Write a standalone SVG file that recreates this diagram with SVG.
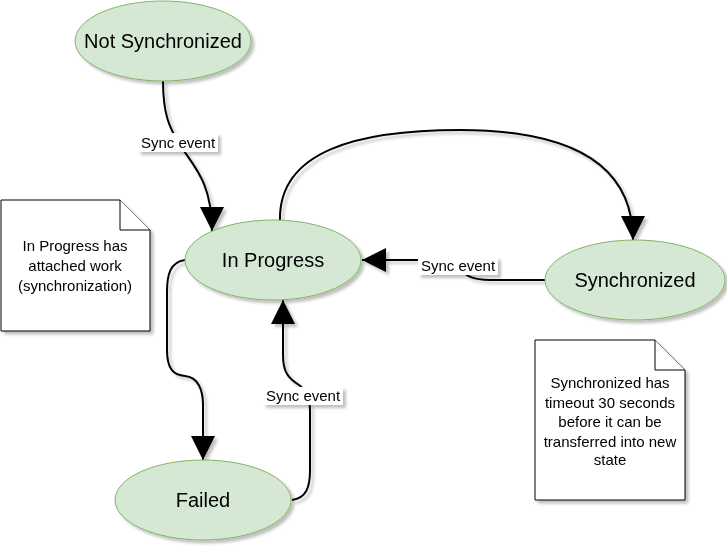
<svg xmlns="http://www.w3.org/2000/svg" width="727" height="547" viewBox="0 0 727 547">
<defs>
<style>
.state{fill:#d5e8d4;stroke:#82b366;stroke-width:1}
.st{font-family:"Liberation Sans",Arial,sans-serif;font-size:20px;fill:#000;text-anchor:middle}
.note{fill:#fff;stroke:#000;stroke-width:1}
.nt{font-family:"Liberation Sans",Arial,sans-serif;font-size:15px;fill:#000;text-anchor:middle}
.edge{fill:none;stroke:#000;stroke-width:2}
.lbg{fill:#fff}
.lt{font-family:"Liberation Sans",Arial,sans-serif;font-size:15px;fill:#000;text-anchor:middle}
</style>
<filter id="sh" x="-10%" y="-10%" width="130%" height="130%">
<feGaussianBlur in="SourceAlpha" stdDeviation="1.5"/>
<feOffset dx="3" dy="3" result="o"/>
<feComponentTransfer><feFuncA type="linear" slope="0.25"/></feComponentTransfer>
<feMerge><feMergeNode/><feMergeNode in="SourceGraphic"/></feMerge>
</filter>
<marker id="arr" markerUnits="userSpaceOnUse" markerWidth="26" markerHeight="26" refX="24" refY="12" orient="auto" viewBox="0 0 26 26">
<path d="M0,0 L24,12 L0,24 z" fill="#000"/>
</marker>
</defs>
<rect width="727" height="547" fill="#fff"/>

<g id="connectors" filter="url(#sh)">
<path class="edge" d="M163,81 C163,115 170,128 178,142 C192,165 212,180 212,231" marker-end="url(#arr)"/>
<path class="edge" d="M280,221 C278,150 360,130 460,130 C560,130 633,158 633,240" marker-end="url(#arr)"/>
<path class="edge" d="M545,280 L490,280 C472,280 465,275 458,268 C450,262 440,260 425,260 L362,260" marker-end="url(#arr)"/>
<path class="edge" d="M185,260 C170,262 167,275 167,292 L167,350 C167,370 174,375 185,376 C198,377 203,390 203,405 L203,460" marker-end="url(#arr)"/>
<path class="edge" d="M292,500 C306,498 310,488 310,470 L310,412 C310,396 306,390 299,385 C288,378 283,372 283,355 L283,300" marker-end="url(#arr)"/>
<rect class="lbg" x="138" y="133" width="80" height="19"/>
<text class="lt" x="178" y="148">Sync event</text>
<rect class="lbg" x="418" y="257" width="80" height="18"/>
<text class="lt" x="458" y="271">Sync event</text>
<rect class="lbg" x="263" y="387" width="80" height="18"/>
<text class="lt" x="303" y="401">Sync event</text>
</g>

<g id="not-synchronized" filter="url(#sh)">
<ellipse class="state" cx="163" cy="41" rx="88" ry="40"/>
<text class="st" x="163" y="48">Not Synchronized</text>
</g>
<g id="in-progress" filter="url(#sh)">
<ellipse class="state" cx="273" cy="260" rx="88" ry="40"/>
<text class="st" x="273" y="267">In Progress</text>
</g>
<g id="synchronized" filter="url(#sh)">
<ellipse class="state" cx="635" cy="280" rx="90" ry="40"/>
<text class="st" x="635" y="287">Synchronized</text>
</g>
<g id="failed" filter="url(#sh)">
<ellipse class="state" cx="203" cy="500" rx="88" ry="40"/>
<text class="st" x="203" y="507">Failed</text>
</g>

<g id="note-in-progress" filter="url(#sh)">
<path class="note" d="M1,200 L120,200 L150,230 L150,331 L1,331 Z"/>
<path class="note" d="M120,200 L120,230 L150,230" fill="none"/>
<text class="nt" x="75" y="251">In Progress has</text>
<text class="nt" x="75" y="271">attached work</text>
<text class="nt" x="75" y="291">(synchronization)</text>
</g>
<g id="note-synchronized" filter="url(#sh)">
<path class="note" d="M535,340 L655,340 L685,370 L685,500 L535,500 Z"/>
<path class="note" d="M655,340 L655,370 L685,370" fill="none"/>
<text class="nt" x="610" y="388">Synchronized has</text>
<text class="nt" x="610" y="408">timeout 30 seconds</text>
<text class="nt" x="610" y="427">before it can be</text>
<text class="nt" x="610" y="447">transferred into new</text>
<text class="nt" x="610" y="465">state</text>
</g>
</svg>
